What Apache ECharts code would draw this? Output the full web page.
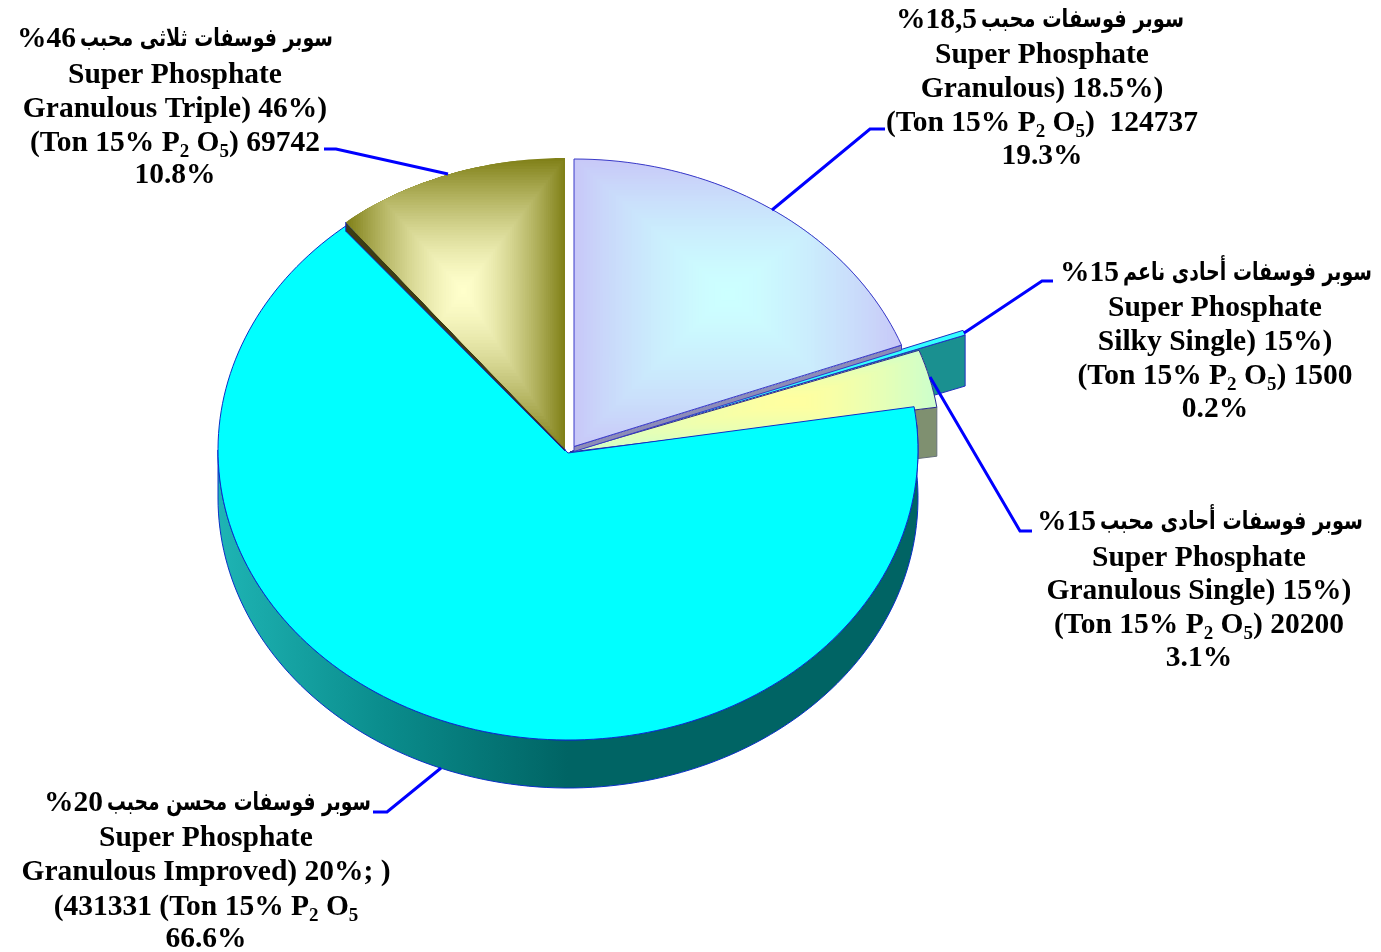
<!DOCTYPE html>
<html><head><meta charset="utf-8">
<style>html,body{margin:0;padding:0;background:#fff}#c{width:1381px;height:952px}</style>
<script src="https://cdn.jsdelivr.net/npm/echarts@6/dist/echarts.min.js"></script>
</head><body><div id="c"></div>
<script>
// ---- data, clockwise from the top of the pie ----
const values = [124737, 1500, 20200, 431331, 69742];
const percents = ['19.3%', '0.2%', '3.1%', '66.6%', '10.8%'];
const arabicNames = [
  'سوبر فوسفات محبب',
  'سوبر فوسفات أحادى ناعم',
  'سوبر فوسفات أحادى محبب',
  'سوبر فوسفات محسن محبب',
  'سوبر فوسفات ثلاثى محبب'
];
const arabicGrades = ['%18,5', '%15', '%15', '%20', '%46'];
const englishLine1 = ['Super Phosphate', 'Super Phosphate', 'Super Phosphate', 'Super Phosphate', 'Super Phosphate'];
const englishLine2 = ['Granulous) 18.5%)', 'Silky Single) 15%)', 'Granulous Single) 15%)', 'Granulous Improved) 20%; )', 'Granulous Triple) 46%)'];
const englishLine3 = [
  '(Ton 15% P{s|2} O{s|5})  124737',
  '(Ton 15% P{s|2} O{s|5}) 1500',
  '(Ton 15% P{s|2} O{s|5}) 20200',
  '(431331 (Ton 15% P{s|2} O{s|5}',
  '(Ton 15% P{s|2} O{s|5}) 69742'
];

// ---- layout and styling ----
const geom = [
  {cx:574, cy:446.5, rx:350, ry:287.5, depth:5,  inner:'#ccffff', outer:'#c8c8f8', wall:'#8c8cb8', stroke:'#3a3ac8', fx:-10, fy:-9},
  {cx:570, cy:452,   rx:420, ry:345,   depth:51, inner:'#33ffff', outer:'#33ffff', wall:'#1a9090', stroke:'#2030c0', fx:0, fy:0},
  {cx:570, cy:452,   rx:371, ry:300,   depth:49, inner:'#ffffa0', outer:'#ccffcc', wall:'#7f9070', stroke:'#2a2a90', fx:40, fy:0},
  {cx:568, cy:450,   rx:350, ry:290,   depth:48, inner:'#00ffff', outer:'#00ffff', wall:'#006464', stroke:'#0a30c8', fx:0, fy:0, ay:453},
  {cx:565, cy:449,   rx:350, ry:291,   depth:9,  inner:'#ffffcc', outer:'#808018', wall:'#3c3c14', stroke:null, fx:8, fy:-13, taper:2}
];
const paintOrder = [1, 2, 3, 4, 0];
const labelBlocks = [
  {x:1042, ys:[20, 55, 89, 123, 156], split:977,  right:1184},
  {x:1215, ys:[273, 308, 342, 376, 409], split:1119, right:1372},
  {x:1199, ys:[522, 558, 591, 625, 658], split:1096, right:1363},
  {x:206,  ys:[803, 838, 872, 907, 939], split:103,  right:371},
  {x:175,  ys:[39, 75, 109, 143, 175], split:76,   right:333}
];
const leaderLines = [
  [[772,210],[870,129],[885,129]],
  [[964,333],[1042,281],[1053,281]],
  [[930,377],[1020,531],[1032,531]],
  [[441,768],[387,812],[373,812]],
  [[448,174],[336,149],[324,149]]
];
const FONT = '"Liberation Serif",serif';
const AR_FONT = '"DejaVu Sans"';
const SIZE = 29.5, AR_SIZE = 25;

const total = values.reduce((a, b) => a + b, 0);
const rad = d => d * Math.PI / 180;
function pt(g, deg, dy) {
  return [g.cx + g.rx * Math.sin(rad(deg)), g.cy - g.ry * Math.cos(rad(deg)) + (dy || 0)];
}
function arc(g, a0, a1, dy) {
  const n = Math.max(2, Math.ceil(Math.abs(a1 - a0) / 1.5)), out = [];
  for (let i = 0; i <= n; i++) out.push(pt(g, a0 + (a1 - a0) * i / n, dy));
  return out;
}
function clip(poly, test, cross) {
  const out = [];
  for (let i = 0; i < poly.length; i++) {
    const a = poly[i], b = poly[(i + 1) % poly.length];
    const ia = test(a), ib = test(b);
    if (ia) out.push(a);
    if (ia !== ib) out.push(cross(a, b));
  }
  return out;
}
function clipRect(poly, x0, y0, x1, y1) {
  const atX = X => (a, b) => [X, a[1] + (b[1] - a[1]) * (X - a[0]) / (b[0] - a[0])];
  const atY = Y => (a, b) => [a[0] + (b[0] - a[0]) * (Y - a[1]) / (b[1] - a[1]), Y];
  let p = clip(poly, q => q[0] >= x0, atX(x0));
  if (p.length) p = clip(p, q => q[0] <= x1, atX(x1));
  if (p.length) p = clip(p, q => q[1] >= y0, atY(y0));
  if (p.length) p = clip(p, q => q[1] <= y1, atY(y1));
  return p;
}
function lerpHex(a, b, t) {
  const pa = [1, 3, 5].map(i => parseInt(a.substr(i, 2), 16));
  const pb = [1, 3, 5].map(i => parseInt(b.substr(i, 2), 16));
  return 'rgb(' + pa.map((v, i) => Math.round(v + (pb[i] - v) * t)).join(',') + ')';
}
function renderSlice(params, api) {
  const i = api.value(0), g = geom[i];
  const before = values.slice(0, i).reduce((a, b) => a + b, 0);
  const a0 = before / total * 360, a1 = (before + api.value(1)) / total * 360;
  const apex = [g.cx, g.ay || g.cy];
  const top = [apex].concat(arc(g, a0, a1));
  const children = [];
  const poly = (points, style) => children.push({type: 'polygon', shape: {points}, style, silent: true});

  // side walls
  if (i === 3) {
    const front = arc(g, Math.max(a0, 85), 270);
    const back = arc(g, 270, Math.max(a0, 85), g.depth);
    poly(front.concat(back), {
      fill: {type: 'linear', global: true, x: 218, y: 0, x2: 918, y2: 0, colorStops: [
        {offset: 0, color: '#1eb4b4'}, {offset: 0.24, color: '#0a8c8c'},
        {offset: 0.5, color: '#006464'}, {offset: 1, color: '#006464'}]},
      stroke: g.stroke, lineWidth: 1
    });
  } else {
    const e = pt(g, i === 4 ? a0 : a1);
    const lower = g.taper === undefined ? g.depth : g.taper;
    poly([e, apex, [apex[0], apex[1] + lower], [e[0], e[1] + g.depth]], {
      fill: g.wall, stroke: i === 4 ? '#1020c0' : (i === 2 ? '#66707a' : g.stroke), lineWidth: 1
    });
  }

  // top face: rectangular path gradient around a focus in the bounding box
  poly(top, {fill: g.outer});
  if (g.inner !== g.outer) {
    const xs = top.map(p => p[0]), ys = top.map(p => p[1]);
    const x0 = Math.min.apply(null, xs), x1 = Math.max.apply(null, xs);
    const y0 = Math.min.apply(null, ys), y1 = Math.max.apply(null, ys);
    const mx = (x0 + x1) / 2 + g.fx, my = (y0 + y1) / 2 + g.fy, steps = 48;
    for (let s = steps - 1; s >= 1; s--) {
      const t = s / steps;
      const p = clipRect(top, mx - (mx - x0) * t, my - (my - y0) * t, mx + (x1 - mx) * t, my + (y1 - my) * t);
      if (p.length > 2) poly(p, {fill: lerpHex(g.inner, g.outer, Math.pow(t, 1.5))});
    }
  }
  if (g.stroke) poly(top, {fill: 'none', stroke: g.stroke, lineWidth: 1});
  return {type: 'group', children};
}

const graphics = [];
leaderLines.forEach(points => graphics.push({
  type: 'polyline', shape: {points}, silent: true, z: 20,
  style: {fill: 'none', stroke: '#0000ff', lineWidth: 3}
}));
function addText(x, y, text, align, family, size, scaleX) {
  graphics.push({
    type: 'text', x, y, z: 30, silent: true, scaleX: scaleX || 1,
    style: {
      text, fill: '#000', align, verticalAlign: 'middle',
      fontFamily: family, fontWeight: 'bold', fontSize: size,
      rich: {s: {fontFamily: FONT, fontWeight: 'bold', fontSize: 19, fill: '#000', lineHeight: 38, verticalAlign: 'bottom'}}
    }
  });
}
const measure = document.createElement('canvas').getContext('2d');
measure.font = 'bold ' + AR_SIZE + 'px ' + AR_FONT;
labelBlocks.forEach((b, i) => {
  const natural = measure.measureText(arabicNames[i]).width;
  addText(b.right, b.ys[0], arabicNames[i], 'right', AR_FONT, AR_SIZE, (b.right - b.split - 4) / natural);
  addText(b.split, b.ys[0], arabicGrades[i], 'right', FONT, SIZE);
  addText(b.x, b.ys[1], englishLine1[i], 'center', FONT, SIZE);
  addText(b.x, b.ys[2], englishLine2[i], 'center', FONT, SIZE);
  addText(b.x, b.ys[3], englishLine3[i], 'center', FONT, SIZE);
  addText(b.x, b.ys[4], percents[i], 'center', FONT, SIZE);
});

const chart = echarts.init(document.getElementById('c'), null, {renderer: 'canvas'});
chart.setOption({
  backgroundColor: '#fff',
  animation: false,
  series: [{
    type: 'custom', coordinateSystem: 'none', renderItem: renderSlice, silent: true,
    data: paintOrder.map(i => [i, values[i]])
  }],
  graphic: {elements: graphics}
});
</script></body></html>
